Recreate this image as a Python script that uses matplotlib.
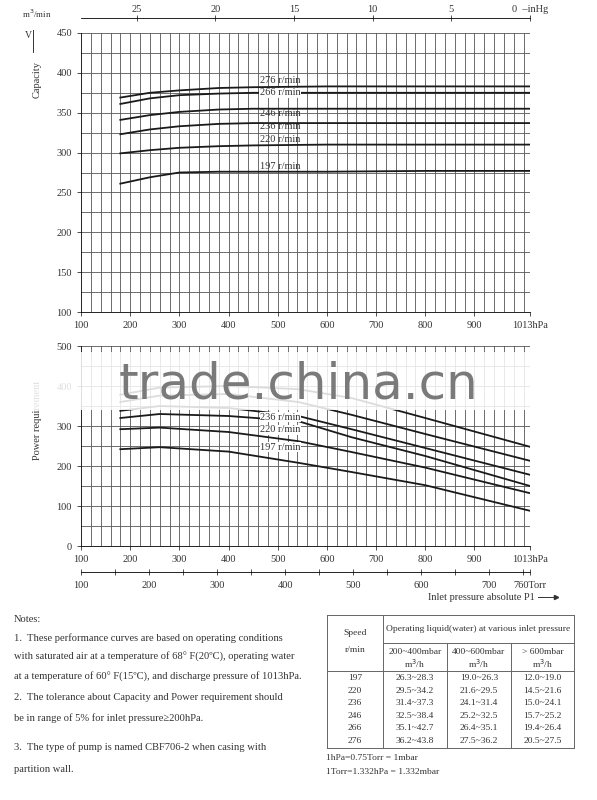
import numpy as np
import matplotlib
matplotlib.use('Agg')
import matplotlib.pyplot as plt
from matplotlib.lines import Line2D
from matplotlib.patches import Rectangle

plt.rcParams['font.family'] = ['Liberation Serif', 'DejaVu Serif']

W, H = 597, 800

# capacity curves (m3/min) vs inlet pressure (hPa)
cap_speeds = ['276', '266', '246', '236', '220', '197']
cap_p = [180, 240, 300, 380, 450, 600, 800, 1013]
cap_vals = {
    '276': [369, 375, 378, 381, 382, 383, 383, 383],
    '266': [361, 368, 372, 374, 375, 375, 375, 375],
    '246': [341, 347, 351, 354, 355, 355, 355, 355],
    '236': [323, 329, 333, 336, 337, 337, 337, 337],
    '220': [299, 303, 306, 308, 309, 310, 310, 310],
    '197': [261, 269, 275, 276, 276, 276, 277, 277],
}
cap_label_y = [391, 375, 349, 333, 316, 283]

# power requirement curves vs inlet pressure (hPa)
pow_p = [180, 260, 400, 542, 650, 800, 1013]
pow_vals = {
    '276': [378, 396, 400, 392, 370, 320, 248],
    '266': [360, 376, 380, 360, 328, 280, 213],
    '246': [338, 350, 345, 325, 292, 245, 178],
    '236': [320, 330, 325, 312, 272, 225, 150],
    '220': [292, 296, 285, 262, 235, 196, 132],
    '197': [242, 247, 236, 208, 185, 152, 88],
}
pow_labels = ['236', '220', '197']
pow_label_y = [322, 290, 247]

table_speed = ['197', '220', '236', '246', '266', '276']
table_low = ['26.3~28.3', '29.5~34.2', '31.4~37.3', '32.5~38.4', '35.1~42.7', '36.2~43.8']
table_mid = ['19.0~26.3', '21.6~29.5', '24.1~31.4', '25.2~32.5', '26.4~35.1', '27.5~36.2']
table_high = ['12.0~19.0', '14.5~21.6', '15.0~24.1', '15.7~25.2', '19.4~26.4', '20.5~27.5']

notes = [
    (620, 'Notes:'),
    (638, '1.  These performance curves are based on operating conditions'),
    (657, 'with saturated air at a temperature of 68\u00b0 F(20\u00baC), operating water'),
    (677, 'at a temperature of 60\u00b0 F(15\u00baC), and discharge pressure of 1013hPa.'),
    (698, '2.  The tolerance about Capacity and Power requirement should'),
    (718, 'be in range of 5% for inlet pressure\u2265200hPa.'),
    (747, '3.  The type of pump is named CBF706-2 when casing with'),
    (770, 'partition wall.'),
]


def fx(x):
    return x / W


def fy(y):
    return 1 - y / H


def box(l, t, r, b):
    return [fx(l), fy(b), fx(r) - fx(l), fy(t) - fy(b)]


fig = plt.figure(figsize=(W / 100, H / 100), dpi=100)
fs = 7.5
ink = '#333333'
grid_c = '#555555'


def grid_axes(ax, ylo, ymax, ystep, ymajor):
    ax.set_xlim(100, 1013)
    ax.set_ylim(ylo, ymax)
    for x in range(120, 1013, 20):
        ax.axvline(x, color=grid_c, lw=0.6, zorder=0)
    for y in np.arange(ylo + ystep, ymax + 1, ystep):
        ax.axhline(y, color=grid_c, lw=0.6, zorder=0)
    ax.set_xticks([100, 200, 300, 400, 500, 600, 700, 800, 900, 1013])
    ax.set_xticklabels(['100', '200', '300', '400', '500', '600', '700', '800', '900', '1013hPa'])
    ax.set_yticks(np.arange(ylo, ymax + 1, ymajor))
    ax.tick_params(labelsize=fs, colors=ink, length=3, width=0.6)
    for s in ['top', 'right']:
        ax.spines[s].set_visible(False)
    for s in ['left', 'bottom']:
        ax.spines[s].set_linewidth(0.6)


# top chart: capacity
ax1 = fig.add_axes(box(81, 33, 530, 312))
grid_axes(ax1, 100, 450, 25, 50)
for s, ly in zip(cap_speeds, cap_label_y):
    ax1.plot(cap_p, cap_vals[s], color='#1a1a1a', lw=1.3)
    bb = dict(fc='white', ec='none', pad=0.5) if s == '266' else None
    ax1.text(505, ly, s + ' r/min', fontsize=7.5, ha='center', va='center', color=ink, bbox=bb)

# inHg scale on top
axh = fig.add_axes(box(81, 18, 530, 18.5))
axh.set_xlim((1013 - 100) / 32.0, 0)
axh.set_yticks([])
for s in ['left', 'right', 'bottom']:
    axh.spines[s].set_visible(False)
axh.spines['top'].set_linewidth(0.6)
axh.xaxis.set_ticks_position('top')
axh.set_xticks([25, 20, 15, 10, 5, 0])
axh.set_xticklabels(['25', '20', '15', '10', '5', '0  \u2013inHg'])
axh.tick_params(labelsize=fs, colors=ink, direction='inout', length=4, width=0.6, pad=1)

fig.text(fx(22), fy(14), 'm$^3$/min', fontsize=6.5, color=ink, va='center')
fig.text(fx(25), fy(35), 'V', fontsize=7, color=ink, va='center')
fig.add_artist(Line2D([fx(33), fx(33)], [fy(52), fy(30)], color=ink, lw=0.7))
fig.text(fx(37), fy(80), 'Capacity', fontsize=7.5, color=ink, rotation=90, ha='center', va='center')

# lower chart: power requirement
ax2 = fig.add_axes(box(81, 346, 530, 546))
grid_axes(ax2, 0, 500, 50, 100)
for s in cap_speeds:
    ax2.plot(pow_p, pow_vals[s], color='#1a1a1a', lw=1.3)
for s, yv in zip(pow_labels, pow_label_y):
    ax2.text(505, yv, s + ' r/min', fontsize=7.5, ha='center', va='center', color=ink,
             bbox=dict(fc='white', ec='none', pad=0.3), zorder=7)
fig.text(fx(37), fy(420), 'Power requirement', fontsize=7.5, color=ink, rotation=90,
         ha='center', va='center')

# Torr scale
axt = fig.add_axes(box(81, 571, 530, 571.5))
axt.set_xlim(100, 760)
axt.set_yticks([])
for s in ['left', 'right', 'top']:
    axt.spines[s].set_visible(False)
axt.spines['bottom'].set_linewidth(0.6)
axt.set_xticks([100, 200, 300, 400, 500, 600, 700, 760])
axt.set_xticklabels(['100', '200', '300', '400', '500', '600', '700', '760Torr'])
axt.set_xticks(np.arange(150, 760, 100), minor=True)
axt.tick_params(which='both', labelsize=fs, colors=ink, direction='inout', length=5, width=0.6, pad=4)
fig.text(fx(428), fy(597), 'Inlet pressure absolute P1', fontsize=7.5, color=ink, va='center')
fig.add_artist(Line2D([fx(538), fx(556)], [fy(597), fy(597)], color=ink, lw=0.7))
fig.add_artist(Line2D([fx(556)], [fy(597)], marker='>', ms=3, color=ink))

# watermark band
fig.add_artist(Rectangle((fx(0), fy(410)), 1, fy(352) - fy(410), transform=fig.transFigure,
                         fc='white', ec='none', alpha=0.85, zorder=5))
fig.text(fx(298), fy(385), 'trade.china.cn', fontsize=36, color='#7a7a7a', ha='center',
         va='center', family='DejaVu Sans', zorder=6)

# notes
for y, t in notes:
    fig.text(fx(14), fy(y), t, fontsize=7.6, color=ink, va='center')

# table
cols = [327, 383, 447, 511, 574]
rows = [615, 643, 671, 748]
tl = dict(color='#666666', lw=0.7)
fig.add_artist(Line2D([fx(cols[0]), fx(cols[-1])], [fy(rows[0])] * 2, **tl))
fig.add_artist(Line2D([fx(cols[1]), fx(cols[-1])], [fy(rows[1])] * 2, **tl))
fig.add_artist(Line2D([fx(cols[0]), fx(cols[-1])], [fy(rows[2])] * 2, **tl))
fig.add_artist(Line2D([fx(cols[0]), fx(cols[-1])], [fy(rows[3])] * 2, **tl))
for i, c in enumerate(cols):
    top = rows[1] if i in (2, 3) else rows[0]
    fig.add_artist(Line2D([fx(c)] * 2, [fy(top), fy(rows[3])], **tl))
tf = 6.8
fig.text(fx(355), fy(633), 'Speed', fontsize=tf, ha='center', va='center', color=ink)
fig.text(fx(355), fy(650), 'r/min', fontsize=tf, ha='center', va='center', color=ink)
fig.text(fx(478), fy(629), 'Operating liquid(water) at various inlet pressure', fontsize=tf,
         ha='center', va='center', color=ink)
for (l, r), h in zip([(383, 447), (447, 511), (511, 574)],
                     ['200~400mbar', '400~600mbar', '> 600mbar']):
    fig.text(fx((l + r) / 2), fy(652), h, fontsize=tf, ha='center', va='center', color=ink)
    fig.text(fx((l + r) / 2), fy(664), 'm$^3$/h', fontsize=tf, ha='center', va='center', color=ink)
for i in range(len(table_speed)):
    y = 678 + i * 12.6
    for xc, v in zip([355, 415, 479, 542.5], [table_speed[i], table_low[i], table_mid[i], table_high[i]]):
        fig.text(fx(xc), fy(y), v, fontsize=tf, ha='center', va='center', color=ink)
fig.text(fx(326), fy(758), '1hPa=0.75Torr = 1mbar', fontsize=tf, va='center', color=ink)
fig.text(fx(326), fy(772), '1Torr=1.332hPa = 1.332mbar', fontsize=tf, va='center', color=ink)

fig.savefig('out.png', dpi=100, facecolor='white')
